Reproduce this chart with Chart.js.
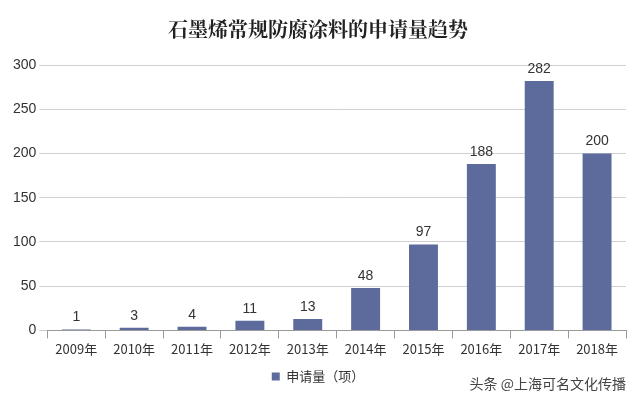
<!DOCTYPE html>
<html><head><meta charset="utf-8">
<script src="https://cdn.jsdelivr.net/npm/chart.js@4/dist/chart.umd.min.js"></script>
<style>
html,body{margin:0;padding:0;background:#fff;}
#wrap{position:relative;width:640px;height:401px;}
#wm{position:absolute;right:14px;bottom:8px;font:14px "Noto Sans CJK SC";color:#444;}
</style></head><body>
<div id="wrap"><canvas id="c" width="640" height="401"></canvas><div id="wm">头条 @上海可名文化传播</div></div>
<script>
const categories=["2009年","2010年","2011年","2012年","2013年","2014年","2015年","2016年","2017年","2018年"];
const values=[1,3,4,11,13,48,97,188,282,200];
const seriesName="申请量（项）";
const titleText="石墨烯常规防腐涂料的申请量趋势";
const labelPlugin={id:'lbl',afterDatasetsDraw(ch){const ctx=ch.ctx;const m=ch.getDatasetMeta(0);ctx.save();ctx.font='14px "Liberation Sans"';ctx.fillStyle='#333';ctx.textAlign='center';ctx.textBaseline='bottom';m.data.forEach((b,i)=>ctx.fillText(values[i],b.x,b.y-5));ctx.restore();}};
new Chart(document.getElementById('c'),{type:'bar',data:{labels:categories,datasets:[{label:seriesName,data:values,backgroundColor:'#5d6a9c',barPercentage:0.5,categoryPercentage:1}]},
options:{responsive:false,animation:false,layout:{padding:{left:10,right:14,top:9,bottom:8}},
plugins:{title:{display:true,text:titleText,font:{family:'"Noto Serif CJK SC","Noto Sans CJK SC"',size:20,weight:'bold'},color:'#222',padding:{top:8,bottom:24}},
legend:{position:'bottom',labels:{boxWidth:8,boxHeight:8,color:'#333',font:{family:'"Noto Sans CJK SC"',size:13}}},tooltip:{enabled:false}},
scales:{y:{min:0,max:300,ticks:{stepSize:50,color:'#333',font:{family:'"Liberation Sans"',size:14}},grid:{color:'#d0d0d0'},border:{display:false}},
x:{grid:{display:true,offset:true,drawOnChartArea:false,color:'#999',tickLength:8},ticks:{color:'#333',font:{family:'"Noto Sans CJK SC"',size:13}},border:{color:'#999'}}}},plugins:[labelPlugin]});
</script></body></html>
